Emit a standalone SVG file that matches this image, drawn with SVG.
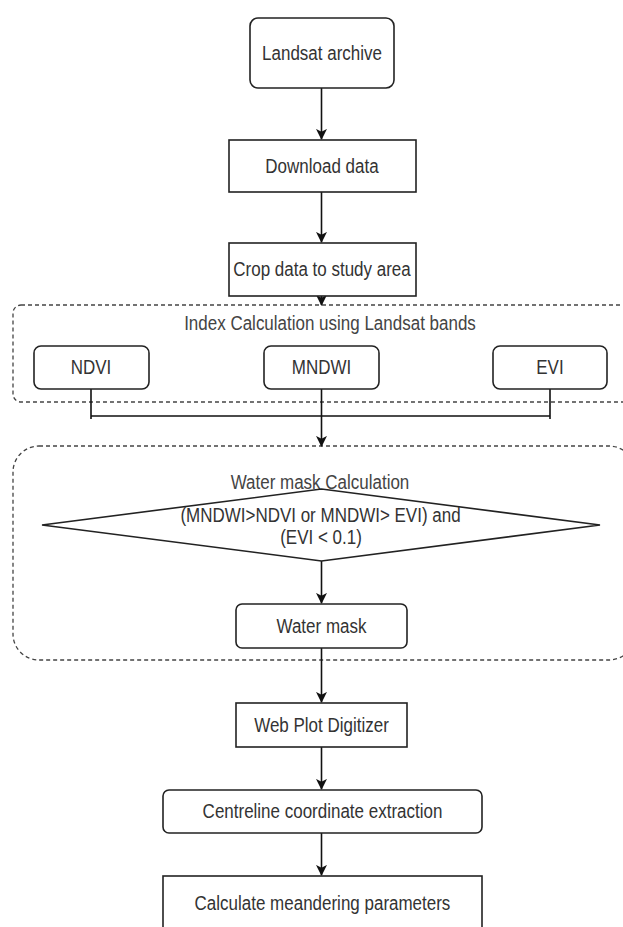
<svg xmlns="http://www.w3.org/2000/svg" width="623" height="927" viewBox="0 0 623 927">
<style>
text{font-family:"Liberation Sans",Arial,sans-serif;font-size:17px;fill:#333;text-anchor:middle;dominant-baseline:central;transform-box:fill-box;transform-origin:center;transform:scaleY(1.15)}
.box{fill:#fff;stroke:#222;stroke-width:1.6}
.grp{fill:none;stroke:#444;stroke-width:1.3;stroke-dasharray:4 3}
.edge{fill:none;stroke:#111;stroke-width:1.6}
.lbl{fill:#444}
</style>
<defs>
<marker id="arrow" viewBox="0 0 12 12" refX="11" refY="6" markerWidth="11" markerHeight="11" markerUnits="userSpaceOnUse" orient="auto">
<path d="M0,0 L12,6 L0,12 L3,6 z" fill="#111"/>
</marker>
</defs>

<g id="group-index">
<rect class="grp" x="13" y="305" width="622" height="97" rx="8"/>
<text class="lbl" x="330" y="323">Index Calculation using Landsat bands</text>
</g>
<g id="group-water">
<rect class="grp" x="13" y="446" width="622" height="214" rx="26"/>
<text class="lbl" x="320" y="482">Water mask Calculation</text>
</g>

<g id="connectors">
<path class="edge" d="M321.5,88 V139" marker-end="url(#arrow)"/>
<path class="edge" d="M321.5,192 V242" marker-end="url(#arrow)"/>
<path class="edge" d="M321.5,296 V305" marker-end="url(#arrow)"/>
<path class="edge" d="M91,389 V419 M91,416 H321.5"/>
<path class="edge" d="M550,389 V419 M550,416 H321.5"/>
<path class="edge" d="M321.5,389 V446" marker-end="url(#arrow)"/>
<path class="edge" d="M321.5,561 V603" marker-end="url(#arrow)"/>
<path class="edge" d="M321.5,648 V702" marker-end="url(#arrow)"/>
<path class="edge" d="M321.5,747 V789" marker-end="url(#arrow)"/>
<path class="edge" d="M321.5,833 V875" marker-end="url(#arrow)"/>
</g>

<g id="landsat-archive">
<rect class="box" x="250" y="18" width="144" height="70" rx="8"/>
<text x="322" y="53">Landsat archive</text>
</g>
<g id="download-data">
<rect class="box" x="229" y="140" width="187" height="52"/>
<text x="322" y="166">Download data</text>
</g>
<g id="crop-data">
<rect class="box" x="229" y="243" width="187" height="53"/>
<text x="322" y="269.5">Crop data to study area</text>
</g>
<g id="ndvi">
<rect class="box" x="34" y="346" width="115" height="43" rx="7"/>
<text x="91" y="367.5">NDVI</text>
</g>
<g id="mndwi">
<rect class="box" x="264" y="346" width="115" height="43" rx="7"/>
<text x="321.5" y="367.5">MNDWI</text>
</g>
<g id="evi">
<rect class="box" x="493" y="346" width="114" height="43" rx="7"/>
<text x="550" y="367.5">EVI</text>
</g>
<g id="water-condition">
<polygon class="box" points="42,525 321.5,489 600,525 321.5,561"/>
<text x="320.5" y="515">(MNDWI&gt;NDVI or MNDWI&gt; EVI) and</text>
<text x="321" y="537">(EVI &lt; 0.1)</text>
</g>
<g id="water-mask">
<rect class="box" x="236" y="604" width="171" height="44" rx="6"/>
<text x="321.5" y="626">Water mask</text>
</g>
<g id="web-plot-digitizer">
<rect class="box" x="236" y="703" width="171" height="44"/>
<text x="321.5" y="725">Web Plot Digitizer</text>
</g>
<g id="centreline">
<rect class="box" x="163" y="790" width="319" height="43" rx="6"/>
<text x="322.5" y="811.5">Centreline coordinate extraction</text>
</g>
<g id="meandering">
<rect class="box" x="163" y="876" width="319" height="70"/>
<text x="322.5" y="903">Calculate meandering parameters</text>
</g>
</svg>
